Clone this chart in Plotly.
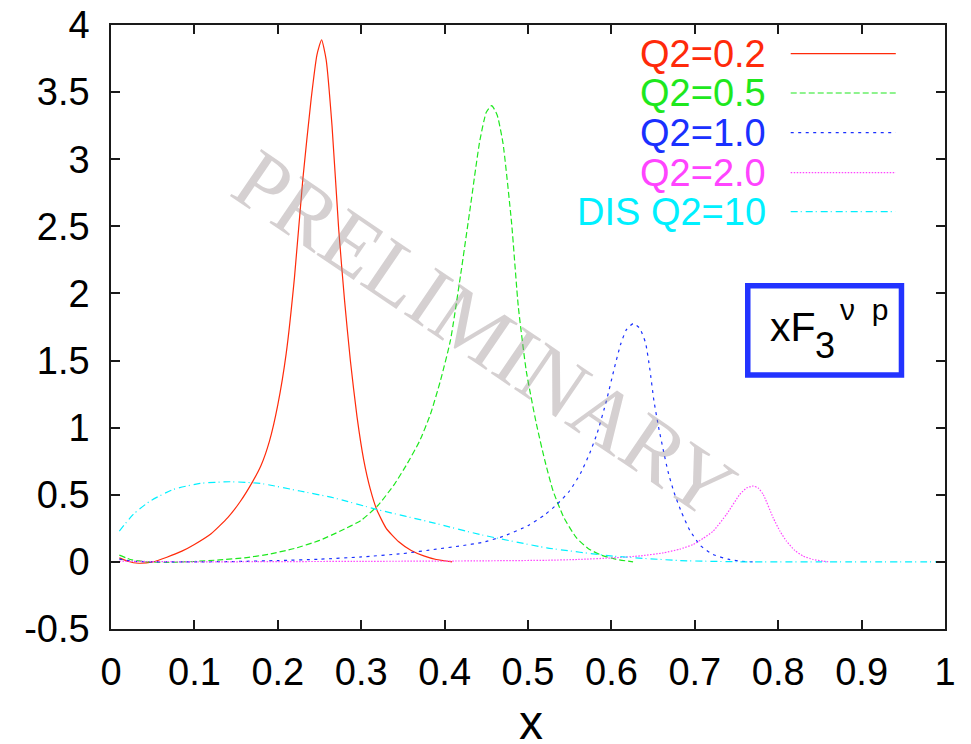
import plotly.graph_objects as go

# ---------------- data ----------------
x_q02 = [0.010, 0.020, 0.033, 0.050, 0.067, 0.085, 0.100, 0.120, 0.140, 0.155, 0.170, 0.180,
         0.190, 0.200, 0.210, 0.220, 0.230, 0.240, 0.247, 0.2525, 0.258, 0.265, 0.273, 0.280,
         0.287, 0.295, 0.303, 0.311, 0.3186, 0.330, 0.345, 0.360, 0.375, 0.390, 0.409]
y_q02 = [0.030, 0.005, -0.010, 0.000, 0.035, 0.080, 0.130, 0.210, 0.330, 0.450, 0.600, 0.720,
         0.900, 1.170, 1.550, 2.120, 2.850, 3.450, 3.780, 3.890, 3.740, 3.250, 2.480, 1.950,
         1.500, 1.080, 0.760, 0.540, 0.390, 0.250, 0.150, 0.085, 0.045, 0.018, 0.000]

x_q05 = [0.010, 0.025, 0.045, 0.070, 0.100, 0.130, 0.160, 0.190, 0.220, 0.250, 0.275, 0.300,
         0.320, 0.340, 0.355, 0.370, 0.383, 0.395, 0.407, 0.419, 0.431, 0.442, 0.450, 0.4565,
         0.463, 0.470, 0.4804, 0.4884, 0.498, 0.510, 0.520, 0.530, 0.543, 0.558, 0.572, 0.588,
         0.605, 0.626]
y_q05 = [0.050, 0.015, 0.000, -0.003, 0.003, 0.015, 0.030, 0.058, 0.100, 0.160, 0.230, 0.310,
         0.420, 0.580, 0.730, 0.900, 1.100, 1.350, 1.650, 2.130, 2.650, 3.130, 3.350, 3.400,
         3.330, 3.120, 2.520, 1.900, 1.420, 1.030, 0.760, 0.530, 0.330, 0.180, 0.100, 0.050,
         0.020, 0.000]

x_q10 = [0.010, 0.030, 0.060, 0.100, 0.150, 0.200, 0.250, 0.300, 0.350, 0.390, 0.420, 0.445,
         0.470, 0.500, 0.520, 0.535, 0.550, 0.563, 0.574, 0.583, 0.594, 0.603, 0.611, 0.618,
         0.6263, 0.634, 0.641, 0.646, 0.651, 0.657, 0.6623, 0.668, 0.675, 0.684, 0.694, 0.707,
         0.722, 0.740, 0.755, 0.770]
y_q10 = [0.020, 0.003, 0.000, 0.000, 0.003, 0.010, 0.020, 0.037, 0.062, 0.095, 0.120, 0.145,
         0.190, 0.270, 0.350, 0.430, 0.530, 0.660, 0.810, 0.960, 1.200, 1.430, 1.620, 1.730,
         1.776, 1.740, 1.630, 1.440, 1.200, 0.990, 0.830, 0.670, 0.520, 0.370, 0.235, 0.120,
         0.055, 0.020, 0.005, 0.000]

x_q20 = [0.010, 0.100, 0.200, 0.300, 0.400, 0.450, 0.522, 0.560, 0.602, 0.635, 0.662, 0.682,
         0.698, 0.710, 0.722, 0.738, 0.754, 0.762, 0.770, 0.776, 0.782, 0.794, 0.802, 0.810,
         0.820, 0.830, 0.842, 0.854, 0.862]
y_q20 = [0.005, 0.000, 0.002, 0.004, 0.006, 0.008, 0.012, 0.018, 0.030, 0.045, 0.067, 0.095,
         0.130, 0.175, 0.229, 0.354, 0.503, 0.550, 0.565, 0.550, 0.503, 0.328, 0.230, 0.154,
         0.085, 0.043, 0.018, 0.005, 0.000]

x_dis = [0.010, 0.0267, 0.0468, 0.0747, 0.1067, 0.1427, 0.1787, 0.2266, 0.2666, 0.3186, 0.3865,
         0.4424, 0.5224, 0.6023, 0.682, 0.762, 0.850, 1.000]
y_dis = [0.230, 0.354, 0.453, 0.540, 0.585, 0.597, 0.585, 0.528, 0.478, 0.391, 0.291,
         0.204, 0.105, 0.043, 0.010, 0.000, 0.000, 0.000]

series_labels = ["Q2=0.2", "Q2=0.5", "Q2=1.0", "Q2=2.0", "DIS Q2=10"]
series_x = [x_q02, x_q05, x_q10, x_q20, x_dis]
series_y = [y_q02, y_q05, y_q10, y_q20, y_dis]

x_tick_vals = [0, 0.1, 0.2, 0.3, 0.4, 0.5, 0.6, 0.7, 0.8, 0.9, 1]
x_tick_text = ["0", "0.1", "0.2", "0.3", "0.4", "0.5", "0.6", "0.7", "0.8", "0.9", "1"]
y_tick_vals = [-0.5, 0, 0.5, 1, 1.5, 2, 2.5, 3, 3.5, 4]
y_tick_text = ["-0.5", "0", "0.5", "1", "1.5", "2", "2.5", "3", "3.5", "4"]
x_axis_title = "x"

# ---------------- styles ----------------
colors = ["#ff2a0a", "#1ee81e", "#1a30ff", "#ff44ff", "#00f0ff"]
dashes = ["solid", "6px,3px", "3px,4.5px", "1.5px,1.5px", "7px,3px,1px,4px"]
FONT = "Liberation Sans, Arial, Helvetica, sans-serif"
AX = "#1a1a1a"

fig = go.Figure()
for xs, ys, c, d, name in zip(series_x, series_y, colors, dashes, series_labels):
    fig.add_trace(go.Scatter(
        x=xs, y=ys, mode="lines", name=name, showlegend=False, hoverinfo="skip",
        line=dict(color=c, width=1.2, dash=d, shape="spline", smoothing=0.5)))

axis_common = dict(
    showgrid=False, zeroline=False, showline=True, linecolor=AX, linewidth=1.5,
    mirror="ticks", ticks="inside", ticklen=9, tickwidth=1.5, tickcolor=AX,
    tickfont=dict(family=FONT, size=38, color="black"), automargin=False,
    ticklabeloverflow="allow",
)

fig.update_layout(
    width=971, height=744,
    margin=dict(l=111, r=26, t=25, b=115),
    paper_bgcolor="white", plot_bgcolor="white",
    xaxis=dict(range=[0, 1], tickvals=x_tick_vals, ticktext=x_tick_text,
               ticklabelstandoff=9, **axis_common),
    yaxis=dict(range=[-0.5, 4], tickvals=y_tick_vals, ticktext=y_tick_text,
               ticklabelstandoff=12, **axis_common),
)

# x-axis title placed explicitly below the tick labels
fig.add_annotation(xref="paper", yref="paper", x=0.5036, y=-0.1551, xanchor="center", yanchor="middle",
                   text=x_axis_title, showarrow=False, font=dict(family=FONT, size=48, color="black"))

# ---------------- legend (text right-aligned, sample line to the right) ----------------
legend_rows_y = [0.9525, 0.8874, 0.8217, 0.7555, 0.6909]
for lab, c, d, yy in zip(series_labels, colors, dashes, legend_rows_y):
    fig.add_annotation(xref="paper", yref="paper", x=0.7878, y=yy, xanchor="right", yanchor="middle",
                       text=lab, showarrow=False, font=dict(family=FONT, size=38, color=c))
    fig.add_shape(type="line", xref="paper", yref="paper", x0=0.815, x1=0.941, y0=yy, y1=yy,
                  line=dict(color=c, width=1.2, dash=d))

# ---------------- PRELIMINARY watermark ----------------
fig.add_annotation(xref="paper", yref="paper", x=0.448, y=0.4876, xanchor="center", yanchor="middle",
                   text="PRELIMINARY", textangle=34.2, showarrow=False,
                   font=dict(family="Liberation Serif, Times New Roman, serif", size=86,
                             color="rgba(150,137,140,0.4)"))

# ---------------- xF3 box ----------------
fig.add_shape(type="rect", xref="paper", yref="paper", x0=0.7635, x1=0.9478, y0=0.4205, y1=0.5682,
              line=dict(color="#2233ff", width=5.5), fillcolor="rgba(0,0,0,0)")
fig.add_annotation(xref="paper", yref="paper", x=0.7874, y=0.5000, xanchor="left", yanchor="middle",
                   text="xF", showarrow=False, font=dict(family=FONT, size=41, color="black"))
fig.add_annotation(xref="paper", yref="paper", x=0.842, y=0.470, xanchor="left", yanchor="middle",
                   text="3", showarrow=False, font=dict(family=FONT, size=36, color="black"))
fig.add_annotation(xref="paper", yref="paper", x=0.8717, y=0.529, xanchor="left", yanchor="middle",
                   text="ν\u00a0\u00a0p", showarrow=False, font=dict(family=FONT, size=30, color="black"))

# remove the page's default 8px body margin so the figure fills the window exactly
fig.write_html("out.html",
               config={"displayModeBar": False},
               post_script="document.body.style.margin='0';document.body.style.overflow='hidden';")
